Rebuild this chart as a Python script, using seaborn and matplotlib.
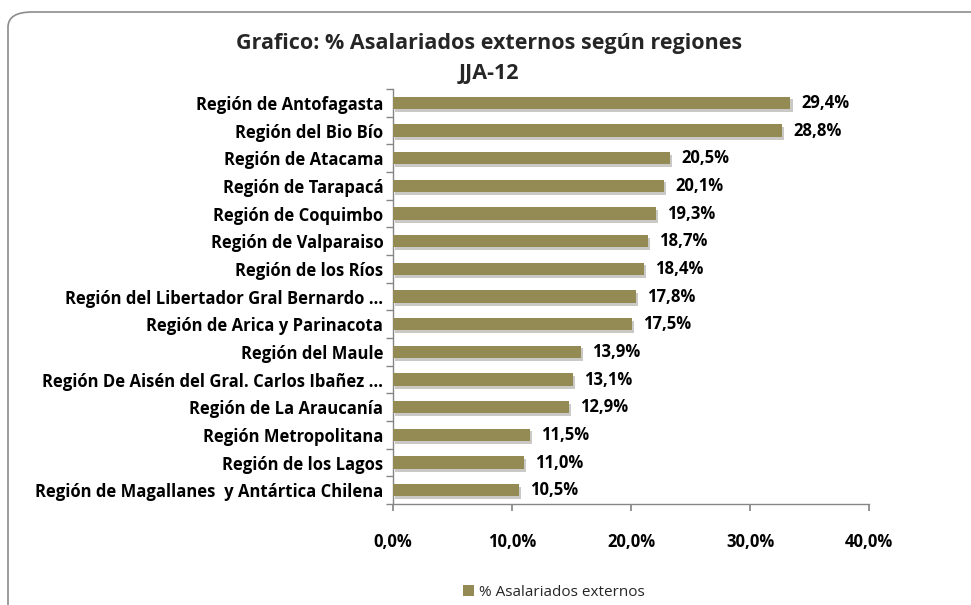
import numpy as np
import pandas as pd
import matplotlib
matplotlib.use("Agg")
import matplotlib.pyplot as plt
import matplotlib.patheffects as pe
from matplotlib.patches import FancyBboxPatch, Patch
from matplotlib.ticker import FixedLocator
import seaborn as sns

# data
regions = [
    "Región de Antofagasta",
    "Región del Bio Bío",
    "Región de Atacama",
    "Región de Tarapacá",
    "Región de Coquimbo",
    "Región de Valparaiso",
    "Región de los Ríos",
    "Región del Libertador Gral Bernardo …",
    "Región de Arica y Parinacota",
    "Región del Maule",
    "Región De Aisén del Gral. Carlos Ibañez …",
    "Región de La Araucanía",
    "Región Metropolitana",
    "Región de los Lagos",
    "Región de Magallanes  y Antártica Chilena",
]
# data labels as printed on the chart
pct = [29.4, 28.8, 20.5, 20.1, 19.3, 18.7, 18.4, 17.8, 17.5, 13.9, 13.1, 12.9, 11.5, 11.0, 10.5]
# bar lengths as drawn against the x axis (they don't follow the labels exactly)
bar_len = [33.4, 32.7, 23.3, 22.8, 22.1, 21.4, 21.1, 20.4, 20.1, 15.8, 15.1, 14.8, 11.5, 11.0, 10.6]
x_ticks = [0, 10, 20, 30, 40]

df = pd.DataFrame({"region": regions, "bar": bar_len, "pct": pct})

sns.set_theme(style="white")
plt.rcParams['font.family'] = ['Open Sans', 'DejaVu Sans']

bar_color = "#948A54"
axis_color = "#868686"

fig = plt.figure(figsize=(9.71, 6.05), dpi=100)
ax = fig.add_axes([393 / 971, 1 - 504 / 605, (869 - 393) / 971, (504 - 89) / 605])

# rounded frame around the chart area
frame = FancyBboxPatch((8 / 971, -0.05), 1.2, 0.05 + (605 - 12) / 605,
                       boxstyle="round,pad=0,rounding_size=0.025",
                       transform=fig.transFigure, facecolor="none",
                       edgecolor="#8c8c8c", linewidth=1.2, zorder=0)
fig.patches.append(frame)

sns.barplot(data=df, x="bar", y="region", color=bar_color, width=0.45,
            saturation=1, linewidth=0, ax=ax, zorder=3)
for bar in ax.patches:
    bar.set_path_effects([pe.SimplePatchShadow(offset=(1.5, -2), alpha=0.25), pe.Normal()])

for i, (b, v) in enumerate(zip(bar_len, pct)):
    ax.annotate(f"{v:.1f}%".replace(".", ","), (b, i), xytext=(8, 0),
                textcoords="offset points", va="center", ha="left",
                fontsize=12, fontweight="bold", color="black")

ax.set_xlim(0, 40)
ax.set_ylim(len(regions) - 0.5, -0.5)
ax.set_xticks(x_ticks)
ax.set_xticklabels([f"{t:.1f}%".replace(".", ",") for t in x_ticks],
                   fontsize=12, fontweight="bold")
ax.set_yticklabels(regions, fontsize=12, fontweight="bold")
ax.yaxis.set_minor_locator(FixedLocator(np.arange(-0.5, len(regions), 1)))
ax.tick_params(axis="y", which="major", length=0, pad=7, colors="black")
ax.tick_params(axis="y", which="minor", length=5, color=axis_color, direction="out", left=True)
ax.tick_params(axis="x", which="major", length=5, color=axis_color, direction="out",
               bottom=True, pad=16, labelcolor="black")
ax.set_xlabel("")
ax.set_ylabel("")
ax.grid(False)
for s in ["top", "right"]:
    ax.spines[s].set_visible(False)
for s in ["left", "bottom"]:
    ax.spines[s].set_color(axis_color)
    ax.spines[s].set_linewidth(1)

fig.text(489 / 971, 1 - 44 / 605, "Grafico: % Asalariados externos según regiones",
         ha="center", va="center", fontsize=15.5, fontweight="bold")
fig.text(489 / 971, 1 - 74 / 605, "JJA-12", ha="center", va="center",
         fontsize=15.5, fontweight="bold")

fig.legend(handles=[Patch(facecolor=bar_color, edgecolor="none", label="% Asalariados externos")],
           loc="center", bbox_to_anchor=(554 / 971, 1 - 592 / 605), frameon=False,
           fontsize=11, handlelength=0.7, handleheight=0.7, handletextpad=0.3)

fig.savefig("out.png", dpi=100)
